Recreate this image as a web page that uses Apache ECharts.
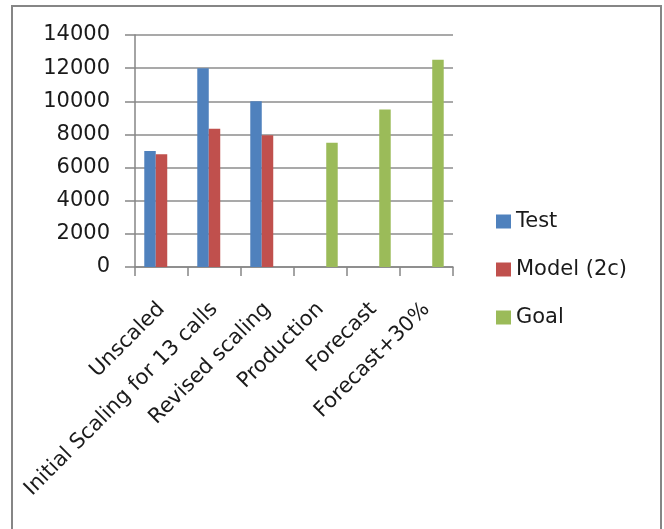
<!DOCTYPE html>
<html>
<head>
<meta charset="utf-8">
<script src="https://cdn.jsdelivr.net/npm/echarts@6/dist/echarts.min.js"></script>
<style>
html,body{margin:0;padding:0;background:#fff;}
#chart{width:664px;height:529px;}
</style>
</head>
<body>
<div id="chart"></div>
<script>
var categories = ['Unscaled', 'Initial Scaling for 13 calls', 'Revised scaling', 'Production', 'Forecast', 'Forecast+30%'];
var seriesNames = ['Test', 'Model (2c)', 'Goal'];
var testValues = [7000, 12000, 10000, null, null, null];
var modelValues = [6800, 8350, 7950, null, null, null];
var goalValues = [null, null, null, 7500, 9500, 12500];
var yTicks = [0, 2000, 4000, 6000, 8000, 10000, 12000, 14000];

var FONT = 'DejaVu Sans';
var chart = echarts.init(document.getElementById('chart'), null, {renderer: 'canvas'});
chart.setOption({
  backgroundColor: '#ffffff',
  animation: false,
  color: ['#4F81BD', '#C0504D', '#9BBB59'],
  graphic: [{
    type: 'rect',
    shape: {x: 12, y: 6, width: 649, height: 560},
    style: {fill: 'none', stroke: '#868686', lineWidth: 2},
    silent: true,
    z: 100
  }],
  legend: {
    orient: 'vertical',
    left: 491,
    top: 206,
    itemWidth: 15,
    itemHeight: 14,
    itemGap: 27,
    icon: 'rect',
    textStyle: {fontFamily: FONT, fontSize: 21, color: '#1a1a1a'},
    data: seriesNames
  },
  grid: {left: 135, right: 211, top: 35, bottom: 262, containLabel: false},
  xAxis: {
    type: 'category',
    data: categories,
    axisLine: {show: true, lineStyle: {color: '#868686', width: 1.5}},
    axisTick: {show: true, length: 9, interval: 0, lineStyle: {color: '#868686', width: 1.5}},
    axisLabel: {
      interval: 0,
      rotate: 45,
      margin: 39,
      fontFamily: FONT,
      fontSize: 21,
      color: '#1a1a1a',
      hideOverlap: false
    }
  },
  yAxis: {
    type: 'value',
    min: yTicks[0],
    max: yTicks[yTicks.length - 1],
    interval: 2000,
    axisLine: {show: true, lineStyle: {color: '#868686', width: 1.5}},
    axisTick: {show: true, length: 10, lineStyle: {color: '#868686', width: 1.5}},
    splitLine: {show: true, lineStyle: {color: '#8c8c8c', width: 1.5}},
    axisLabel: {margin: 25, fontFamily: FONT, fontSize: 21, color: '#1a1a1a',
      formatter: function (v) { return String(v); }}
  },
  series: [
    {name: seriesNames[0], type: 'bar', data: testValues, barGap: '0%', barCategoryGap: '35%'},
    {name: seriesNames[1], type: 'bar', data: modelValues, barGap: '0%', barCategoryGap: '35%'},
    {name: seriesNames[2], type: 'bar', data: goalValues, barGap: '0%', barCategoryGap: '35%'}
  ]
});
</script>
</body>
</html>
